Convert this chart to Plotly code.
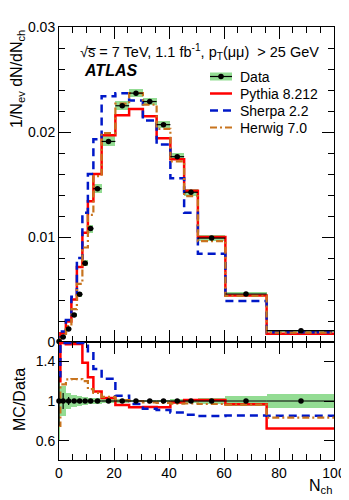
import numpy as np
import plotly.graph_objects as go

# bin edges in N_ch
edges = [-0.5, 0.5, 2.5, 4.5, 6.5, 8.5, 10.5, 12.5, 15.5, 20.5, 25.5,
         30.5, 35.5, 40.5, 45.5, 50.5, 60.5, 75.5, 100.5]

# 1/Nev dN/dNch
data = [0.00004, 0.00048, 0.00124, 0.00257, 0.00454, 0.0075, 0.0108, 0.0146,
        0.0191, 0.0225, 0.0237, 0.0229, 0.0207, 0.01765, 0.01426, 0.0099,
        0.00457, 0.00108]
data_tot_rel = [0.40, 0.15, 0.08, 0.06, 0.05, 0.04, 0.035, 0.03, 0.025, 0.02,
                0.015, 0.015, 0.015, 0.02, 0.025, 0.03, 0.05, 0.07]
data_stat_rel = [0.25, 0.08, 0.04, 0.02, 0.015, 0.01, 0.01, 0.008, 0.006, 0.005,
                 0.005, 0.005, 0.005, 0.006, 0.007, 0.008, 0.01, 0.02]

pythia = [0.000048, 0.00083, 0.00195, 0.00405, 0.00715, 0.0104, 0.0134, 0.0160,
          0.0197, 0.0216, 0.0222, 0.0215, 0.0194, 0.0174, 0.0144, 0.0100,
          0.00442, 0.00078]
sherpa = [0.00005, 0.0010, 0.0021, 0.0043, 0.0080, 0.0123, 0.0160, 0.0193,
          0.0234, 0.0237, 0.0230, 0.0211, 0.0188, 0.0156, 0.0123, 0.0084,
          0.0039, 0.00092]
herwig = [0.00003, 0.00056, 0.00151, 0.00314, 0.00554, 0.0090, 0.0121, 0.0158,
          0.0199, 0.0227, 0.0237, 0.0226, 0.0203, 0.0172, 0.0139, 0.0096,
          0.0044, 0.0009]

FONT = "Liberation Sans, Arial, Helvetica, sans-serif"
GREEN = "#93dc93"

edges = np.array(edges)
data = np.array(data)
centers = 0.5 * (edges[:-1] + edges[1:])
widths = np.diff(edges)
tot = data * np.array(data_tot_rel)

YR = [0.405, 1.595]

# plot area in page pixels (page body has an 8px margin)
PL, PR, PT, PB = 59, 334, 27, 460


def px(x):
    return (x - PL) / (PR - PL)


def py(y):
    return (PB - y) / (PB - PT)


def step_y(vals):
    vals = list(vals)
    return vals + [vals[-1]]


fig = go.Figure()

# green systematic band, main panel
fig.add_trace(go.Bar(x=centers, y=2 * tot, base=data - tot, width=widths,
                     marker=dict(color=GREEN, line=dict(width=0)),
                     showlegend=False, hoverinfo="skip", xaxis="x", yaxis="y"))
# green band, ratio panel
rel = np.array(data_tot_rel)
fig.add_trace(go.Bar(x=centers, y=2 * rel, base=1 - rel, width=widths,
                     marker=dict(color=GREEN, line=dict(width=0)),
                     showlegend=False, hoverinfo="skip", xaxis="x2", yaxis="y2"))

mc = [
    ("Pythia 8.212", pythia, "#ff0000", "solid", 2.5),
    ("Sherpa 2.2", sherpa, "#0018c8", "8px,5px", 2.5),
    ("Herwig 7.0", herwig, "#c8741e", "7px,3px,2px,3px", 2.2),
]
for name, vals, col, dash, lw in mc:
    fig.add_trace(go.Scatter(x=edges, y=step_y(vals), mode="lines",
                             line=dict(color=col, width=lw, dash=dash, shape="hv"),
                             name=name, showlegend=False, xaxis="x", yaxis="y"))
    ratio = np.clip(np.array(vals) / data, 0.0, 1.585)
    fig.add_trace(go.Scatter(x=edges, y=step_y(ratio), mode="lines",
                             line=dict(color=col, width=lw, dash=dash, shape="hv"),
                             showlegend=False, xaxis="x2", yaxis="y2"))

# data points
fig.add_trace(go.Scatter(x=centers, y=data, mode="markers",
                         marker=dict(color="black", size=5.5),
                         error_x=dict(type="data", array=widths / 2, color="black",
                                      thickness=1.2, width=0),
                         error_y=dict(type="data", array=data * np.array(data_stat_rel),
                                      color="black", thickness=1.2, width=0),
                         showlegend=False, cliponaxis=False, xaxis="x", yaxis="y"))
fig.add_trace(go.Scatter(x=centers, y=np.ones_like(data), mode="markers",
                         marker=dict(color="black", size=5.5),
                         error_x=dict(type="data", array=widths / 2, color="black",
                                      thickness=1.2, width=0),
                         error_y=dict(type="data", array=data_stat_rel,
                                      color="black", thickness=1.2, width=0),
                         showlegend=False, cliponaxis=False, xaxis="x2", yaxis="y2"))

split = 118 / 433

axis_common = dict(showline=True, linecolor="black", linewidth=1, mirror="allticks",
                   ticks="inside", tickcolor="black", tickwidth=1, showgrid=False,
                   zeroline=False, automargin=False,
                   tickfont=dict(family=FONT, size=14, color="black"))

fig.update_layout(
    width=341, height=492,
    margin=dict(l=51, r=15, t=19, b=40),
    paper_bgcolor="white", plot_bgcolor="white",
    font=dict(family=FONT, color="black"),
    barmode="overlay", bargap=0,
    xaxis=dict(domain=[0, 1], range=[0, 100], anchor="y", dtick=20, ticklen=12,
               showticklabels=False,
               minor=dict(ticks="inside", dtick=5, ticklen=6, tickcolor="black"),
               **axis_common),
    yaxis=dict(domain=[split, 1], range=[0, 0.03], anchor="x", dtick=0.01, ticklen=12,
               minor=dict(ticks="inside", dtick=0.002, ticklen=6, tickcolor="black"),
               **axis_common),
    xaxis2=dict(domain=[0, 1], range=[0, 100], anchor="y2", dtick=20, ticklen=12,
                minor=dict(ticks="inside", dtick=5, ticklen=6, tickcolor="black"),
                **axis_common),
    yaxis2=dict(domain=[0, split], range=YR, anchor="x2", tickvals=[0.6, 1, 1.4],
                ticktext=["0.6", "1", "1.4"], ticklen=10, **axis_common),
    showlegend=False,
)

annos = [
    dict(text="√s̅ = 7 TeV, 1.1 fb<sup>-1</sup>, p<sub>T</sub>(μμ)  > 25 GeV",
         x=px(78), y=py(52), xanchor="left", yanchor="middle",
         font=dict(family=FONT, size=14.5)),
    dict(text="<b><i>ATLAS</i></b>", x=px(82), y=py(70), xanchor="left",
         yanchor="middle", font=dict(family=FONT, size=16)),
    dict(text="1/N<sub>ev</sub> dN/dN<sub>ch</sub>", x=px(18), y=py(28), textangle=-90,
         xanchor="center", yanchor="top", font=dict(family=FONT, size=16)),
    dict(text="MC/Data", x=px(19), y=py(400), textangle=-90,
         xanchor="center", yanchor="middle", font=dict(family=FONT, size=16)),
    dict(text="N<sub>ch</sub>", x=1.0, y=py(486), xanchor="right",
         yanchor="middle", font=dict(family=FONT, size=16)),
]

# hand-made legend in ROOT style
leg_rows = [76.5, 93.5, 110.5, 127.5]
leg_names = ["Data"] + [m[0] for m in mc]
sx0, sx1, tx = 210, 232, 238
for yrow, name in zip(leg_rows, leg_names):
    annos.append(dict(text=name, x=px(tx), y=py(yrow), xanchor="left",
                      yanchor="middle", font=dict(family=FONT, size=14)))

shapes = [
    dict(type="rect", x0=px(sx0), x1=px(sx1), y0=py(leg_rows[0] - 4),
         y1=py(leg_rows[0] + 4), fillcolor=GREEN, line=dict(width=0)),
    dict(type="line", x0=px(sx0), x1=px(sx1), y0=py(leg_rows[0]), y1=py(leg_rows[0]),
         line=dict(color="black", width=1.2)),
    dict(type="circle", x0=px(221 - 2.8), x1=px(221 + 2.8), y0=py(leg_rows[0] - 2.8),
         y1=py(leg_rows[0] + 2.8), fillcolor="black", line=dict(width=0)),
]
for yrow, (name, vals, col, dash, lw) in zip(leg_rows[1:], mc):
    shapes.append(dict(type="line", x0=px(sx0), x1=px(sx1), y0=py(yrow), y1=py(yrow),
                       line=dict(color=col, width=lw, dash=dash)))

for a in annos:
    fig.add_annotation(xref="paper", yref="paper", showarrow=False, **a)
for s in shapes:
    fig.add_shape(xref="paper", yref="paper", **s)

fig.write_html("out.html")
